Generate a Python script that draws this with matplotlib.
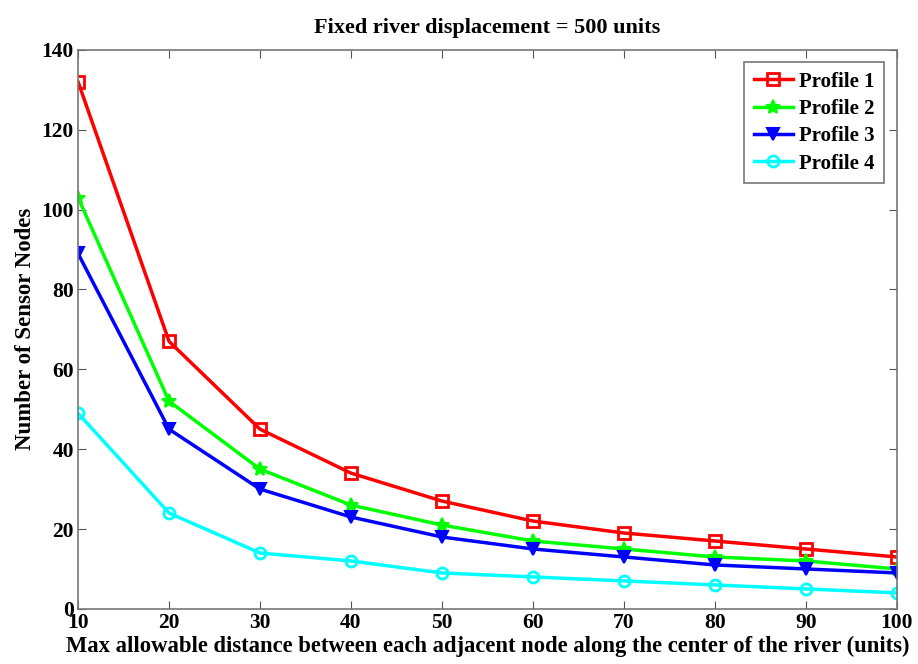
import numpy as np
import matplotlib.pyplot as plt

plt.rcParams['font.family'] = ['Liberation Serif', 'DejaVu Serif']
plt.rcParams['font.weight'] = 'bold'

# -- Data --
max_distance = [10, 20, 30, 40, 50, 60, 70, 80, 90, 100]
profile_1 = [132, 67, 45, 34, 27, 22, 19, 17, 15, 13]
profile_2 = [103, 52, 35, 26, 21, 17, 15, 13, 12, 10]
profile_3 = [89, 45, 30, 23, 18, 15, 13, 11, 10, 9]
profile_4 = [49, 24, 14, 12, 9, 8, 7, 6, 5, 4]
labels = ["Profile 1", "Profile 2", "Profile 3", "Profile 4"]

# -- Plotting code --
fig = plt.figure(figsize=(9.18, 6.64), dpi=100)
ax = fig.add_axes([0.085, 0.083, 0.892, 0.842])

ax.plot(max_distance, profile_1, color="#ff0000", lw=2.5, marker="s",
        ms=8, mfc="none", mew=2, label=labels[0])
ax.plot(max_distance, profile_2, color="#00ff00", lw=2.5, marker="*",
        ms=10, mew=1.5, label=labels[1])
ax.plot(max_distance, profile_3, color="#0000ff", lw=2.5, marker="v",
        ms=9, mew=1.5, label=labels[2])
ax.plot(max_distance, profile_4, color="#00ffff", lw=2.5, marker="o",
        ms=8, mfc="none", mew=2, label=labels[3])

ax.set_xlim(10, 100)
ax.set_ylim(0, 140)
ax.set_xticks(np.arange(10, 101, 10))
ax.set_yticks(np.arange(0, 141, 20))
ax.tick_params(direction="in", top=True, right=True, length=6,
               labelsize=15.5, color="#555555", pad=3)
for lab in ax.get_xticklabels() + ax.get_yticklabels():
    lab.set_fontweight("bold")
for sp in ax.spines.values():
    sp.set_color("#777777")
    sp.set_linewidth(1.2)

ax.set_xlabel("Max allowable distance between each adjacent node along the center of the river (units)",
              fontsize=16.3, fontweight="bold", labelpad=2)
ax.set_ylabel("Number of Sensor Nodes", fontsize=16.5, fontweight="bold",
              labelpad=4)
ax.set_title("Fixed river displacement = 500 units", fontsize=16,
             fontweight="bold", pad=12)

leg = ax.legend(loc="upper right", fontsize=15, fancybox=False,
                handlelength=1.9, handletextpad=0.3, borderaxespad=0.6,
                labelspacing=0.35, borderpad=0.45)
leg.get_frame().set_edgecolor("#555555")
leg.get_frame().set_linewidth(1.2)

fig.savefig("out.png", dpi=100)
